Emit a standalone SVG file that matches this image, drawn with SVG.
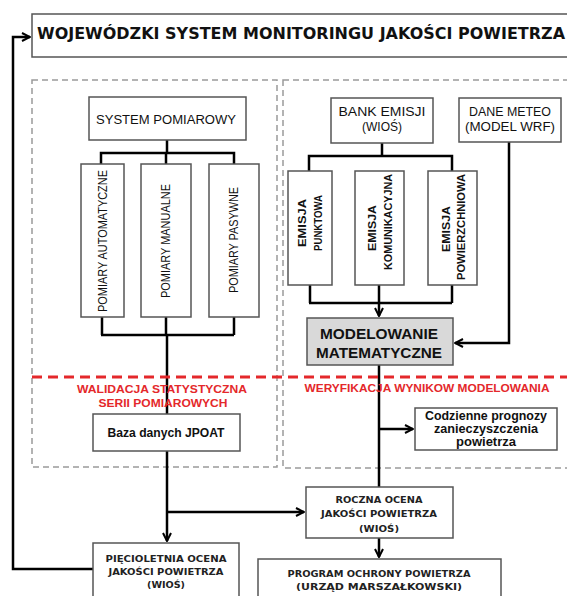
<svg xmlns="http://www.w3.org/2000/svg" width="567" height="596" viewBox="0 0 567 596">
<defs>
<marker id="arr" viewBox="0 0 10 10" refX="9" refY="5" markerWidth="4" markerHeight="4" orient="auto" markerUnits="strokeWidth">
<path d="M1,1 L9,5 L1,9" fill="none" stroke="#000" stroke-width="2"/>
</marker>
<style>
.box{fill:#fff;stroke:#555;stroke-width:1.5}
.dash{fill:none;stroke:#9a9a9a;stroke-width:1.5;stroke-dasharray:6 4}
.con{fill:none;stroke:#000;stroke-width:2.5}
.t{font-family:"Liberation Sans",Arial,sans-serif;font-size:12px;fill:#111;text-anchor:middle}
.b{font-family:"Liberation Sans",Arial,sans-serif;font-weight:bold;fill:#111;text-anchor:middle}
.d{font-family:"DejaVu Sans",Verdana,sans-serif;font-weight:bold;fill:#222;text-anchor:middle;font-size:9px}
.red{font-family:"Liberation Sans",Arial,sans-serif;font-weight:bold;fill:#e4282b;text-anchor:middle;font-size:11px}
</style>
</defs>
<rect width="567" height="596" fill="#fff"/>

<!-- dashed areas -->
<rect class="dash" x="32" y="80" width="245" height="387"/>
<rect class="dash" x="283" y="80" width="320" height="388"/>

<!-- connectors -->
<g id="connectors">
<path class="con" d="M167,140 V153 M101,164 V153 H234 V164 M166,153 V164"/>
<path class="con" d="M102,317 V335 M166,317 V335 M234,317 V335 M101,335 H234"/>
<path class="con" d="M167,335 V414"/>
<path class="con" d="M167,451 V541" marker-end="url(#arr)"/>
<path class="con" d="M167,512 H304" marker-end="url(#arr)"/>
<path class="con" d="M382,143 V156 M309,171 V156 H452 V171"/>
<path class="con" d="M310,285 V303 M452,285 V303 M309,303 H452"/>
<path class="con" d="M379,285 V316" marker-end="url(#arr)"/>
<path class="con" d="M509,142 V343 H455" marker-end="url(#arr)"/>
<path class="con" d="M379,365 V487"/>
<path class="con" d="M379,429 H413" marker-end="url(#arr)"/>
<path class="con" d="M379,538 V557" marker-end="url(#arr)"/>
<path class="con" d="M93,569 H13 V37 H30" marker-end="url(#arr)"/>
</g>

<!-- red dashed line -->
<line x1="32" y1="377" x2="567" y2="377" stroke="#e4282b" stroke-width="3" stroke-dasharray="10 6"/>

<g id="title">
<rect class="box" x="32" y="14" width="560" height="43"/>
<text x="37" y="39" font-family="'DejaVu Sans',Verdana,sans-serif" font-weight="bold" font-size="15" fill="#111" textLength="528" lengthAdjust="spacingAndGlyphs">WOJEWÓDZKI SYSTEM MONITORINGU JAKOŚCI POWIETRZA</text>
</g>

<g id="system-pomiarowy">
<rect class="box" x="89" y="97" width="157" height="43"/>
<text class="t" x="166" y="124" textLength="140" lengthAdjust="spacingAndGlyphs">SYSTEM POMIAROWY</text>
</g>

<g id="pomiary-automatyczne">
<rect class="box" x="81" y="164" width="43" height="153"/>
<text class="t" transform="translate(103,241) rotate(-90)" dy="4.3" textLength="142" lengthAdjust="spacingAndGlyphs">POMIARY AUTOMATYCZNE</text>
</g>
<g id="pomiary-manualne">
<rect class="box" x="141" y="164" width="50" height="153"/>
<text class="t" transform="translate(166,241) rotate(-90)" dy="4.3" textLength="114" lengthAdjust="spacingAndGlyphs">POMIARY MANUALNE</text>
</g>
<g id="pomiary-pasywne">
<rect class="box" x="209" y="164" width="50" height="153"/>
<text class="t" transform="translate(234,240) rotate(-90)" dy="4.3" textLength="106" lengthAdjust="spacingAndGlyphs">POMIARY PASYWNE</text>
</g>

<g id="bank-emisji">
<rect class="box" x="331" y="98" width="102" height="45"/>
<text class="t" x="382" y="116" textLength="87" lengthAdjust="spacingAndGlyphs">BANK EMISJI</text>
<text class="t" x="382" y="131">(WIOŚ)</text>
</g>

<g id="dane-meteo">
<rect class="box" x="459" y="98" width="102" height="44"/>
<text class="t" x="510" y="116" textLength="82" lengthAdjust="spacingAndGlyphs">DANE METEO</text>
<text class="t" x="510" y="131" textLength="90" lengthAdjust="spacingAndGlyphs">(MODEL WRF)</text>
</g>

<g id="emisja-punktowa">
<rect class="box" x="288" y="171" width="44" height="114"/>
<text class="b" font-size="11" transform="translate(302,223) rotate(-90)" dy="4" textLength="48" lengthAdjust="spacingAndGlyphs">EMISJA</text>
<text class="b" font-size="11" transform="translate(318,223) rotate(-90)" dy="4" textLength="56" lengthAdjust="spacingAndGlyphs">PUNKTOWA</text>
</g>
<g id="emisja-komunikacyjna">
<rect class="box" x="355" y="171" width="49" height="114"/>
<text class="b" font-size="11" transform="translate(372,228) rotate(-90)" dy="4" textLength="46" lengthAdjust="spacingAndGlyphs">EMISJA</text>
<text class="b" font-size="11" transform="translate(388,222) rotate(-90)" dy="4" textLength="96" lengthAdjust="spacingAndGlyphs">KOMUNIKACYJNA</text>
</g>
<g id="emisja-powierzchniowa">
<rect class="box" x="428" y="171" width="49" height="114"/>
<text class="b" font-size="11" transform="translate(446,229) rotate(-90)" dy="4" textLength="46" lengthAdjust="spacingAndGlyphs">EMISJA</text>
<text class="b" font-size="11" transform="translate(461,227) rotate(-90)" dy="4" textLength="106" lengthAdjust="spacingAndGlyphs">POWIERZCHNIOWA</text>
</g>

<g id="modelowanie">
<rect x="307" y="318" width="146" height="47" fill="#d9d9d9" stroke="#555" stroke-width="1.5"/>
<text class="b" font-size="14" x="379" y="339" textLength="118" lengthAdjust="spacingAndGlyphs">MODELOWANIE</text>
<text class="b" font-size="14" x="379" y="358" textLength="126" lengthAdjust="spacingAndGlyphs">MATEMATYCZNE</text>
</g>

<g id="walidacja">
<text class="red" x="162" y="393" textLength="170" lengthAdjust="spacingAndGlyphs">WALIDACJA STATYSTYCZNA</text>
<text class="red" x="163" y="407" textLength="129" lengthAdjust="spacingAndGlyphs">SERII POMIAROWYCH</text>
</g>
<g id="weryfikacja">
<text class="red" x="427" y="392" textLength="245" lengthAdjust="spacingAndGlyphs">WERYFIKACJA WYNIKOW MODELOWANIA</text>
</g>

<g id="baza-jpoat">
<rect class="box" x="93" y="414" width="147" height="37"/>
<text class="b" font-size="12" x="166" y="437" textLength="117" lengthAdjust="spacingAndGlyphs">Baza danych JPOAT</text>
</g>

<g id="codzienne-prognozy">
<rect class="box" x="415" y="408" width="142" height="42"/>
<text class="b" font-size="12" x="486" y="420" textLength="122" lengthAdjust="spacingAndGlyphs">Codzienne prognozy</text>
<text class="b" font-size="12" x="486" y="433" textLength="104" lengthAdjust="spacingAndGlyphs">zanieczyszczenia</text>
<text class="b" font-size="12" x="486" y="446" textLength="60" lengthAdjust="spacingAndGlyphs">powietrza</text>
</g>

<g id="roczna-ocena">
<rect class="box" x="306" y="487" width="147" height="51"/>
<text class="d" x="379" y="503" textLength="87" lengthAdjust="spacingAndGlyphs">ROCZNA OCENA</text>
<text class="d" x="379" y="517" textLength="116" lengthAdjust="spacingAndGlyphs">JAKOŚCI POWIETRZA</text>
<text class="d" x="379" y="532" textLength="40" lengthAdjust="spacingAndGlyphs">(WIOŚ)</text>
</g>

<g id="pieciioletnia-ocena">
<rect class="box" x="93" y="543" width="146" height="70"/>
<text class="d" x="166" y="562" textLength="121" lengthAdjust="spacingAndGlyphs">PIĘCIOLETNIA OCENA</text>
<text class="d" x="166" y="575" textLength="115" lengthAdjust="spacingAndGlyphs">JAKOŚCI POWIETRZA</text>
<text class="d" x="166" y="588" textLength="38" lengthAdjust="spacingAndGlyphs">(WIOŚ)</text>
</g>

<g id="program-ochrony">
<rect class="box" x="258" y="559" width="243" height="60"/>
<text class="d" x="379" y="577" textLength="183" lengthAdjust="spacingAndGlyphs">PROGRAM OCHRONY POWIETRZA</text>
<text class="d" x="379" y="590" textLength="166" lengthAdjust="spacingAndGlyphs">(URZĄD MARSZAŁKOWSKI)</text>
</g>
</svg>
